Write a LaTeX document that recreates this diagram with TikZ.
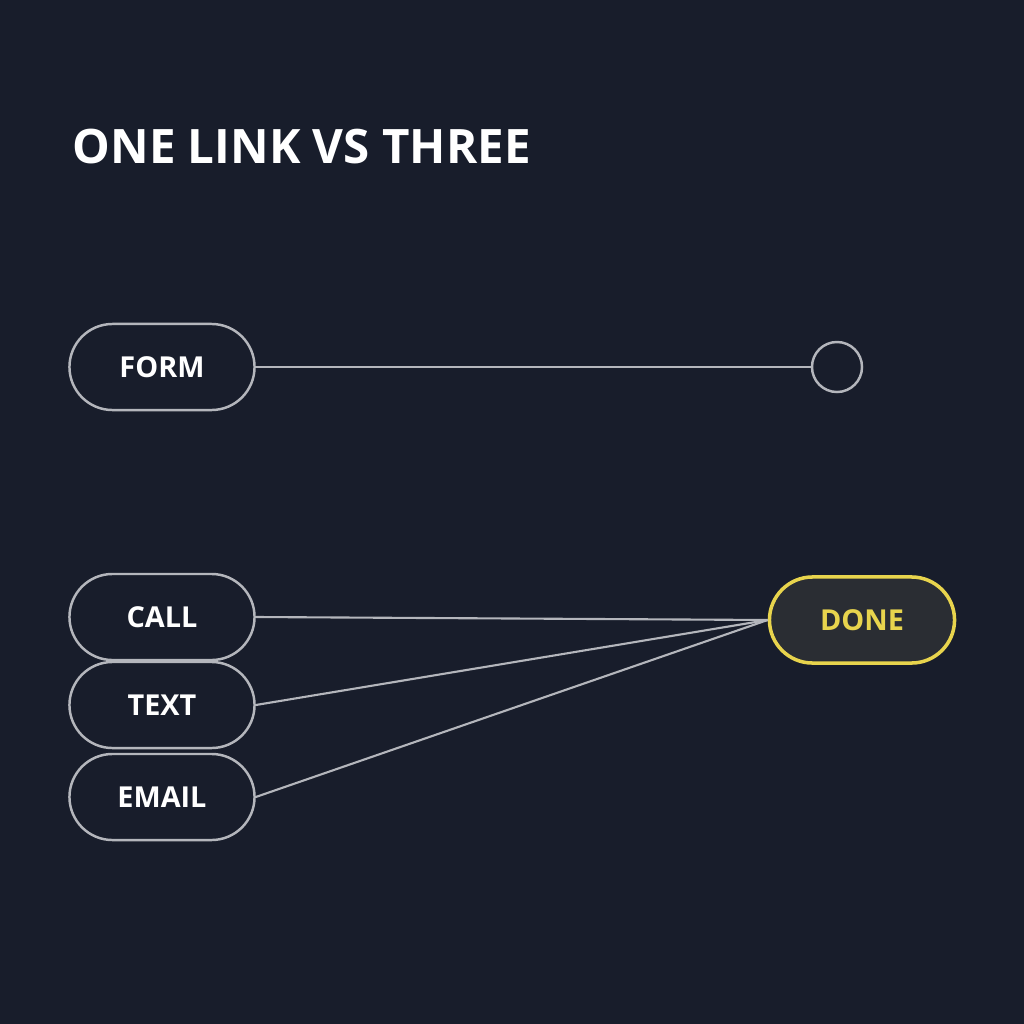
\documentclass[tikz,border=0pt]{standalone}
\usepackage{fontspec}
\setmainfont{Open Sans}
\usetikzlibrary{positioning}
\definecolor{bg}{HTML}{181D2B}
\definecolor{edge}{HTML}{B4B6BC}
\definecolor{gold}{HTML}{E8D44D}
\definecolor{donefill}{HTML}{2A2D33}
\tikzset{
	pill/.style={draw=edge, line width=0.7pt, rounded corners=0.43cm, minimum width=1.85cm,
		minimum height=0.86cm, text=white, font=\fontsize{8.2}{10}\selectfont\bfseries},
	link/.style={draw=edge, line width=0.6pt}
}
\begin{document}
\begin{tikzpicture}[x=0.01cm, y=-0.01cm]
	\fill[bg] (0,0) rectangle (1024,1024);
	\node[anchor=base west, text=white, inner sep=0pt,
		font=\fontsize{13.5}{15}\selectfont\bfseries] (title) at (72,163) {ONE LINK VS THREE};
	\node[pill] (form) at (162,367) {FORM};
	\node[draw=edge, line width=0.7pt, circle, minimum size=0.5cm, inner sep=0pt] (end) at (837,367) {};
	\draw[link] (form.east) -- (end.west);
	\node[pill] (call) at (162,617) {CALL};
	\node[pill] (text) at (162,705) {TEXT};
	\node[pill] (email) at (162,797) {EMAIL};
	\node[pill, draw=gold, fill=donefill, text=gold, line width=1pt] (done) at (862,620) {DONE};
	\foreach \src in {call,text,email}
		\draw[link] (\src.east) -- (done.west);
\end{tikzpicture}
\end{document}
